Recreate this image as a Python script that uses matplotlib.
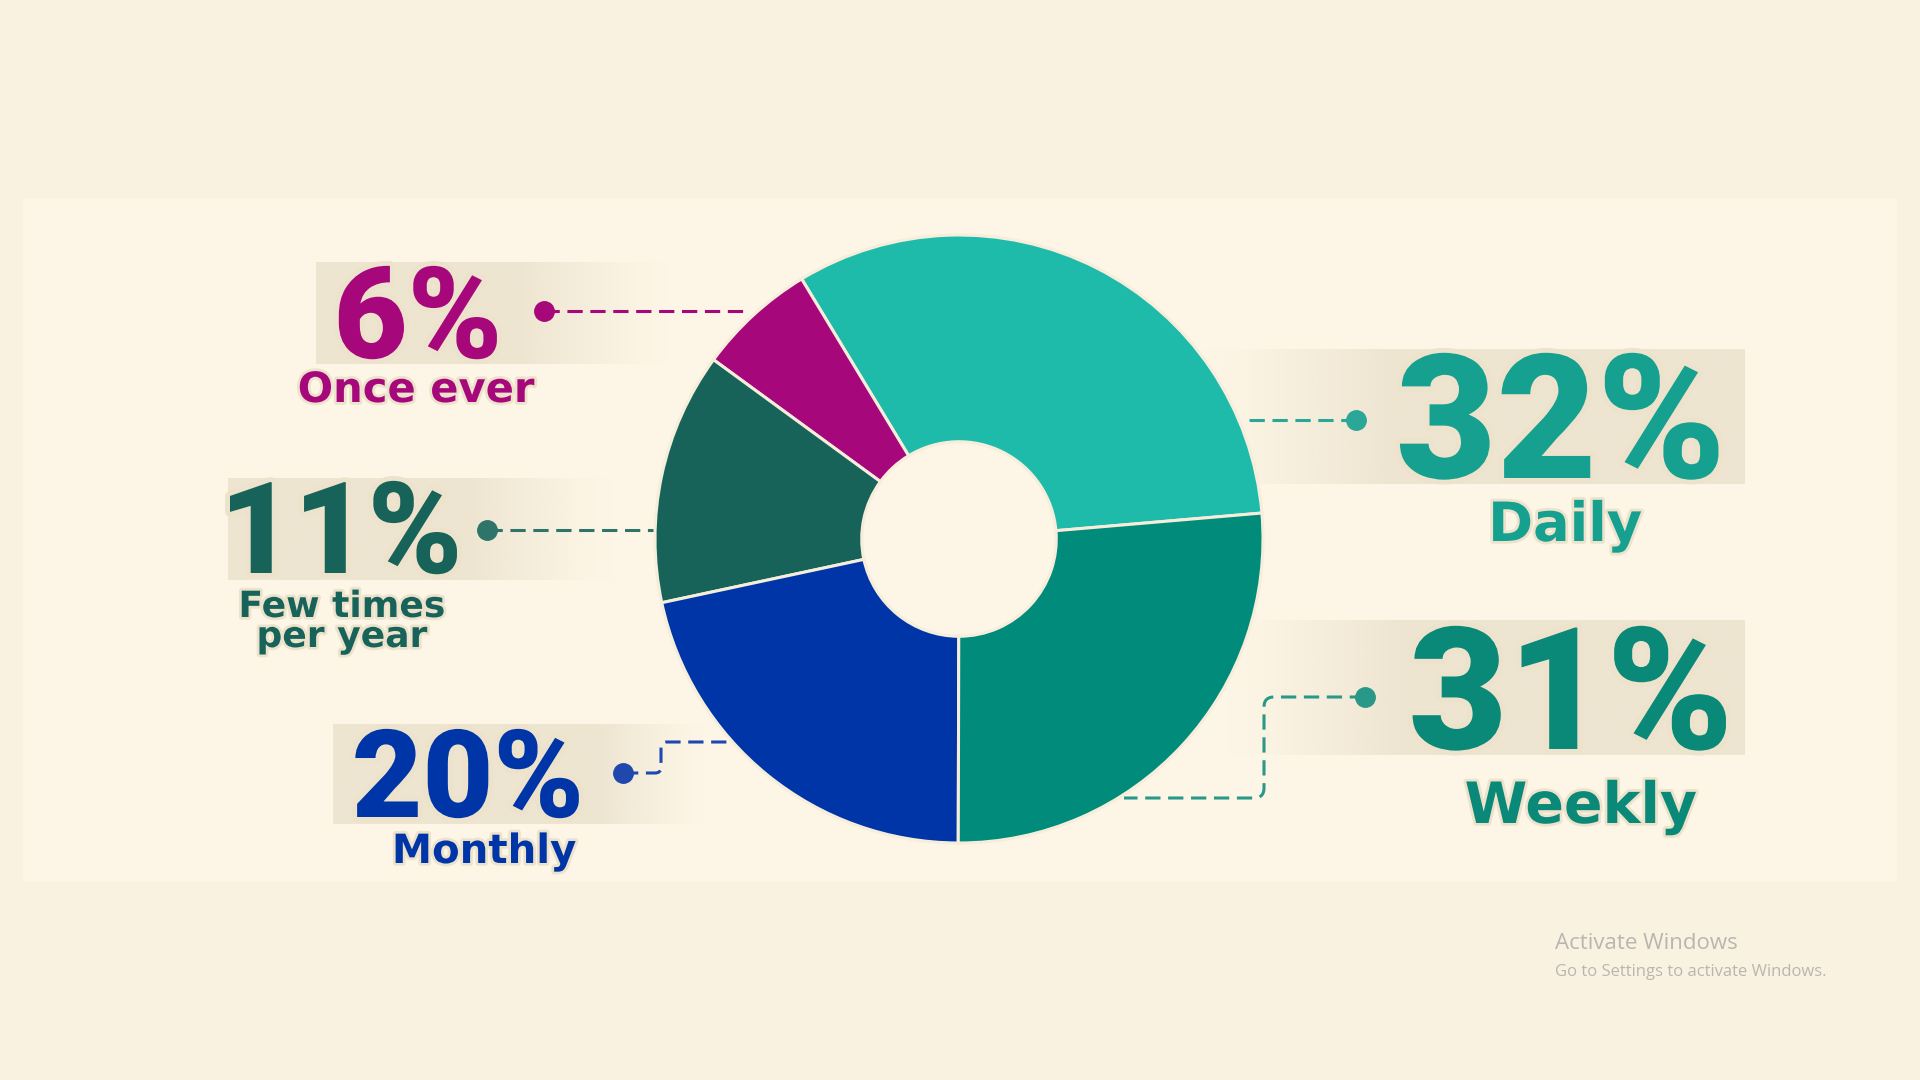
import numpy as np
import matplotlib
matplotlib.use("Agg")
import matplotlib.pyplot as plt
import matplotlib.patheffects as pe
from matplotlib.patches import Rectangle

# data
categories = ["Daily", "Once ever", "Few times\nper year", "Monthly", "Weekly"]
pct_labels = ["32%", "6%", "11%", "20%", "31%"]
# slice sizes as drawn in the source graphic (they don't follow the labels exactly)
slice_share = [32.3, 6.3, 13.4, 21.6, 26.4]
slice_colors = ["#1FBBAA", "#A6087B", "#17635A", "#0035A7", "#008B7B"]
text_colors = ["#16A08F", "#A6087B", "#17635A", "#0035A7", "#0A8878"]
line_colors = ["#2AA797", "#A6087B", "#2E7469", "#1F47AE", "#2A9888"]

W, H = 1920, 1080
BG = "#FAF2E1"
PANEL = "#FDF6E6"
BANNER = "#EEE5D1"


def Y(y):
    # pixel row (from top) -> data y
    return H - y


fig = plt.figure(figsize=(19.2, 10.8), dpi=100, facecolor=BG)
ax = fig.add_axes([0, 0, 1, 1])
ax.set_facecolor(BG)

ax.add_patch(Rectangle((23, Y(882)), 1897 - 23, 882 - 198, color=PANEL, lw=0, zorder=0))


def banner(x0, x1, y0, y1, solid_from, solid_to):
    xs = np.linspace(x0, x1, 400)
    a = np.ones_like(xs)
    left = xs < solid_from
    right = xs > solid_to
    a[left] = (xs[left] - x0) / max(solid_from - x0, 1)
    a[right] = (x1 - xs[right]) / max(x1 - solid_to, 1)
    a = np.clip(a, 0, 1) ** 1.3
    img = np.zeros((1, len(xs), 4))
    img[..., :3] = matplotlib.colors.to_rgb(BANNER)
    img[..., 3] = a
    ax.imshow(img, extent=(x0, x1, Y(y1), Y(y0)), aspect="auto",
              interpolation="bilinear", zorder=1)


def rounded(pts, rad=9, n=8):
    # polyline with small rounded corners
    out = [pts[0]]
    for i in range(1, len(pts) - 1):
        p0, p1, p2 = (np.array(p, float) for p in pts[i - 1:i + 2])
        d1 = (p1 - p0) / np.linalg.norm(p1 - p0)
        d2 = (p2 - p1) / np.linalg.norm(p2 - p1)
        a, b = p1 - d1 * rad, p1 + d2 * rad
        for t in np.linspace(0, 1, n):
            q = (1 - t) ** 2 * a + 2 * (1 - t) * t * p1 + t ** 2 * b
            out.append(tuple(q))
    out.append(pts[-1])
    return out


# label layout: (big text centre x, big baseline, big size, sub centre x, sub baseline, sub size)
layout = [
    (1561, 478, 125, 1565, 541, 39),
    (418, 358, 92, 416, 402, 30),
    (341, 573, 92, 342, 617, 26),
    (468, 817, 88, 484, 863, 29),
    (1571, 749, 123, 1581, 823, 41),
]
banners = [
    (1200, 1745, 349, 484, 1390, 1745),
    (316, 670, 262, 364, 316, 520),
    (228, 615, 478, 580, 228, 470),
    (333, 705, 724, 824, 333, 600),
    (1225, 1745, 620, 755, 1400, 1745),
]
leaders = [
    [(1356, 420), (1243, 420)],
    [(544, 311), (749, 311)],
    [(487, 530), (653, 530)],
    [(623, 773), (661, 773), (661, 742), (732, 742)],
    [(1365, 697), (1264, 697), (1264, 798), (1124, 798)],
]

for b in banners:
    banner(*b)

for pts, col in zip(leaders, line_colors):
    path = rounded(pts, rad=6 if len(pts) > 2 and pts[0][0] < 900 else 10)
    xs = [p[0] for p in path]
    ys = [Y(p[1]) for p in path]
    ax.plot(xs, ys, color=col, lw=2.2, ls=(0, (5, 2.5)), zorder=2)
    ax.plot(xs[0], ys[0], "o", color=col, ms=14, zorder=3)

cx, cy, r = 959, 539, 304
ax.pie(slice_share, colors=slice_colors, startangle=4.9, counterclock=True,
       radius=r, center=(cx, Y(cy)),
       wedgeprops=dict(width=r * 0.68, edgecolor="#F6EEDB", linewidth=2.2))

halo_big = [pe.withStroke(linewidth=7, foreground="#EDE3CC")]
halo_small = [pe.withStroke(linewidth=4, foreground="#EDE3CC")]
for lab, cat, col, (bx, by, bs, sx, sy, ss) in zip(pct_labels, categories, text_colors, layout):
    ax.text(bx, Y(by), lab, ha="center", va="baseline", fontsize=bs,
            family="Roboto", fontweight="black", color=col, zorder=5,
            path_effects=halo_big)
    for k, line in enumerate(cat.split("\n")):
        ax.text(sx, Y(sy + 30 * k), line, ha="center", va="baseline", fontsize=ss,
                family="DejaVu Sans", fontweight="bold", color=col, zorder=5,
                path_effects=halo_small)

# screen watermark present in the source screenshot
ax.text(1555, Y(949), "Activate Windows", ha="left", va="baseline",
        fontsize=16, family="Open Sans", color="#B9B6AF", zorder=5)
ax.text(1555, Y(976), "Go to Settings to activate Windows.", ha="left",
        va="baseline", fontsize=12, family="Open Sans", color="#B9B6AF", zorder=5)

ax.set_xlim(0, W)
ax.set_ylim(0, H)
ax.set_aspect("equal")
ax.axis("off")

fig.savefig("out.png", dpi=100, facecolor=BG)
